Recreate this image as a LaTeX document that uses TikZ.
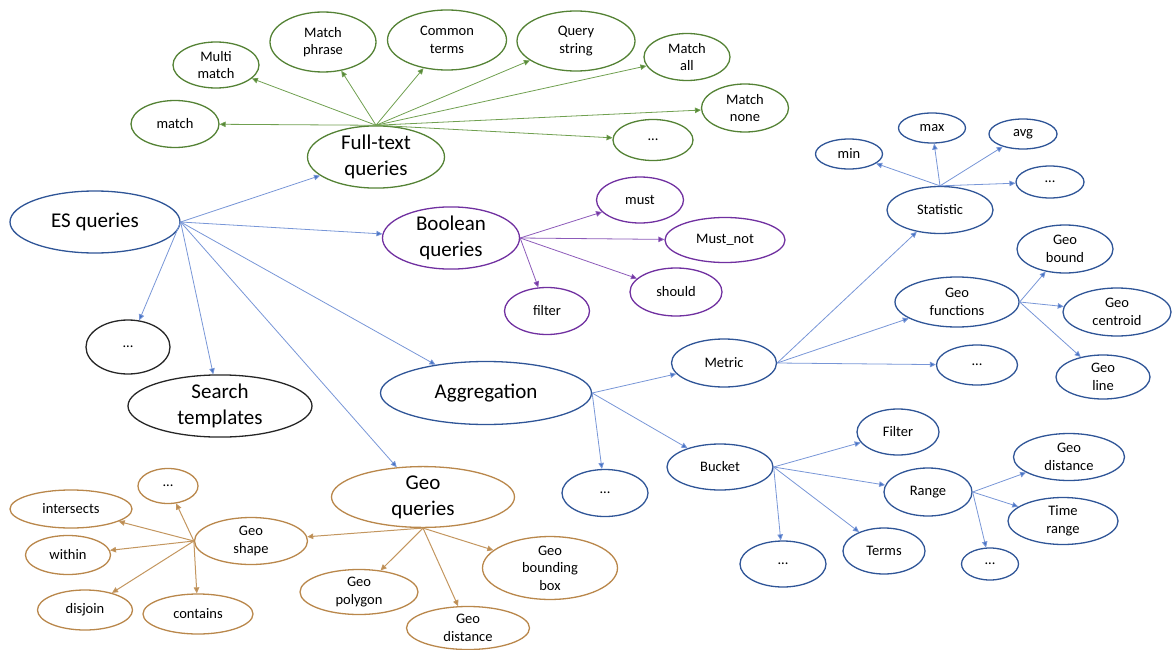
\documentclass[tikz,border=0pt]{standalone}
\usepackage{fontspec}
\setmainfont{Carlito}
\usetikzlibrary{shapes.geometric,arrows.meta}

\definecolor{bluenode}{RGB}{47,85,151}
\definecolor{blueedge}{RGB}{120,150,215}
\definecolor{bluetip}{RGB}{68,114,196}
\definecolor{greennode}{RGB}{84,130,53}
\definecolor{greenedge}{RGB}{112,160,80}
\definecolor{purplenode}{RGB}{112,48,160}
\definecolor{purpleedge}{RGB}{140,90,185}
\definecolor{orangenode}{RGB}{185,135,75}
\definecolor{orangeedge}{RGB}{195,150,95}

\tikzset{
  ell/.style={ellipse, draw, line width=1.3pt, inner sep=0pt, align=center,
    font=\fontsize{14.5}{17.5}\selectfont},
  big/.style={font=\fontsize{21}{26}\selectfont},
  sz/.style n args={2}{minimum width=#1pt, minimum height=#2pt},
  bn/.style={ell, draw=bluenode},
  gn/.style={ell, draw=greennode},
  pn/.style={ell, draw=purplenode},
  on/.style={ell, draw=orangenode},
  kn/.style={ell, draw=black!85},
  edgebase/.style={line width=0.8pt},
  be/.style={edgebase, draw=blueedge, -{Triangle[length=6pt,width=5.5pt,fill=bluetip]}},
  ge/.style={edgebase, draw=greenedge, -{Triangle[length=6pt,width=5.5pt,fill=greennode]}},
  pe/.style={edgebase, draw=purpleedge, -{Triangle[length=6pt,width=5.5pt,fill=purplenode]}},
  oe/.style={edgebase, line width=1pt, draw=orangeedge, -{Triangle[length=6pt,width=5.5pt,fill=orangenode]}},
}

\begin{document}
\begin{tikzpicture}[x=1pt,y=-1pt]
\useasboundingbox (0,0) rectangle (1172,650);

% root
\node[bn, big, sz={170}{62}] (es) at (95,222) {ES queries};
\node[kn, sz={84}{54}] (esdots) at (128,347) {...};
\node[kn, big, sz={184}{62}] (tmpl) at (220,406) {Search\\templates};

% full-text queries
\node[gn, big, sz={137}{60}] (ft) at (376,157) {Full-text\\queries};
\node[gn, sz={88}{47}] (match) at (175,124) {match};
\node[gn, sz={86}{46}] (multi) at (216,65) {Multi\\match};
\node[gn, sz={106}{60}] (phrase) at (323,42) {Match\\phrase};
\node[gn, sz={119}{60}] (common) at (447,40) {Common\\terms};
\node[gn, sz={118}{60}] (qstring) at (576,41) {Query\\string};
\node[gn, sz={86}{47}] (mall) at (687,57) {Match\\all};
\node[gn, sz={87}{48}] (mnone) at (745,108) {Match\\none};
\node[gn, sz={80}{41}] (ftdots) at (653,140) {...};

% boolean queries
\node[pn, big, sz={137}{60}] (bool) at (451,238) {Boolean\\queries};
\node[pn, sz={87}{46}] (must) at (640,200) {must};
\node[pn, sz={120}{45}] (mustnot) at (725,240) {Must\_not};
\node[pn, sz={92}{48}] (should) at (676,292) {should};
\node[pn, sz={85}{47}] (filt) at (547,311) {filter};

% aggregation
\node[bn, big, sz={211}{63}] (agg) at (486,393) {Aggregation};
\node[bn, sz={105}{48}] (metric) at (724,363) {Metric};
\node[bn, sz={106}{46}] (bucket) at (720,467) {Bucket};
\node[bn, sz={86}{47}] (aggdots) at (605,493) {...};

\node[bn, sz={106}{47}] (stat) at (940,210) {Statistic};
\node[bn, sz={67}{30}] (min) at (849,154) {min};
\node[bn, sz={67}{30}] (max) at (932,128) {max};
\node[bn, sz={68}{30}] (avg) at (1023,134) {avg};
\node[bn, sz={68}{32}] (statdots) at (1050,182) {...};

\node[bn, sz={124}{50}] (geofn) at (957,302) {Geo\\functions};
\node[bn, sz={96}{48}] (gbound) at (1065,249) {Geo\\bound};
\node[bn, sz={108}{48}] (gcent) at (1117,312) {Geo\\centroid};
\node[bn, sz={94}{44}] (gline) at (1103,377) {Geo\\line};
\node[bn, sz={81}{40}] (metdots) at (977,365) {...};

\node[bn, sz={82}{46}] (bfilter) at (898,432) {Filter};
\node[bn, sz={88}{48}] (range) at (928,492) {Range};
\node[bn, sz={82}{46}] (terms) at (884,551) {Terms};
\node[bn, sz={86}{46}] (bucdots) at (783,564) {...};

\node[bn, sz={111}{47}] (rgeo) at (1069,457) {Geo\\distance};
\node[bn, sz={110}{47}] (rtime) at (1063,521) {Time\\range};
\node[bn, sz={57}{32}] (rdots) at (990,564) {...};

% geo queries
\node[on, big, sz={183}{60}] (geoq) at (423,497) {Geo\\queries};
\node[on, sz={113}{47}] (gshape) at (251,541) {Geo\\shape};
\node[on, sz={118}{45}] (gpoly) at (359,592) {Geo\\polygon};
\node[on, sz={123}{43}] (gdist) at (468,628) {Geo\\distance};
\node[on, sz={135}{60}] (gbox) at (550,568) {Geo\\bounding\\box};

\node[on, sz={60}{35}] (shdots) at (168,486) {...};
\node[on, sz={122}{38}] (inter) at (71,509) {intersects};
\node[on, sz={85}{39}] (within) at (68,555) {within};
\node[on, sz={95}{40}] (disj) at (85,610) {disjoin};
\node[on, sz={110}{40}] (contains) at (198,614) {contains};

% connectors: root
\foreach \t in {ft,bool,agg,geoq,tmpl,esdots}
  \draw[be] (es.east) -- (\t);

% connectors: full-text
\foreach \t in {match,multi,phrase,common,qstring,mall,mnone,ftdots}
  \draw[ge] (ft.north) -- (\t);

% connectors: boolean
\foreach \t in {must,mustnot,should,filt}
  \draw[pe] (bool.east) -- (\t);

% connectors: aggregation
\foreach \t in {metric,bucket,aggdots}
  \draw[be] (agg.east) -- (\t);
\foreach \t in {stat,geofn,metdots}
  \draw[be] (metric.east) -- (\t);
\foreach \t in {min,max,avg,statdots}
  \draw[be] (stat.north) -- (\t);
\foreach \t in {gbound,gcent,gline}
  \draw[be] (geofn.east) -- (\t);
\foreach \t in {bfilter,range,terms,bucdots}
  \draw[be] (bucket.east) -- (\t);
\foreach \t in {rgeo,rtime,rdots}
  \draw[be] (range.east) -- (\t);

% connectors: geo
\foreach \t in {gshape,gpoly,gdist,gbox}
  \draw[oe] (geoq.south) -- (\t);
\foreach \t in {shdots,inter,within,disj,contains}
  \draw[oe] (gshape.west) -- (\t);
\end{tikzpicture}
\end{document}
